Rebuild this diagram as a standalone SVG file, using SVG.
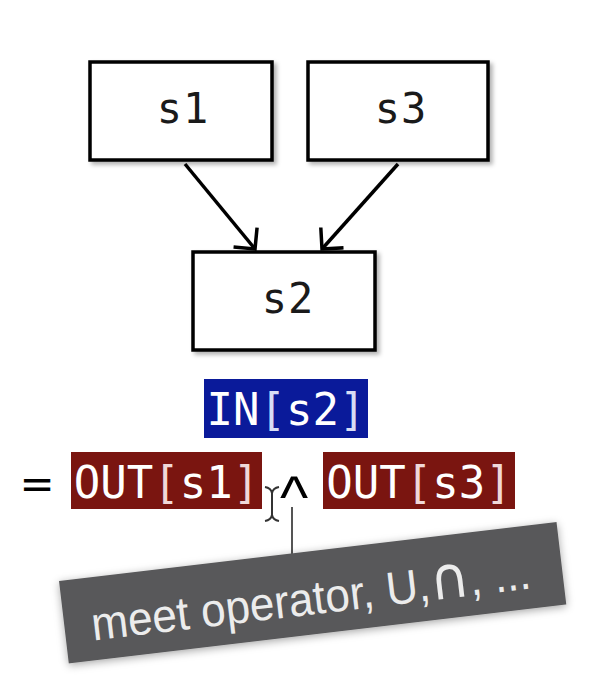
<svg xmlns="http://www.w3.org/2000/svg" width="613" height="689" viewBox="0 0 613 689">
  <defs>
    <filter id="shadow" x="-10%" y="-10%" width="130%" height="140%">
      <feDropShadow dx="3" dy="3" stdDeviation="2" flood-color="#000" flood-opacity="0.3"/>
    </filter>
    <filter id="shadow2" x="-10%" y="-30%" width="120%" height="160%">
      <feDropShadow dx="0" dy="2" stdDeviation="4" flood-color="#000" flood-opacity="0.35"/>
    </filter>
    <marker id="arrow" markerUnits="userSpaceOnUse" markerWidth="34" markerHeight="34" viewBox="-28 -17 34 34" refX="0" refY="0" orient="auto">
      <path d="M-14,-14 L0,0 L-14,14" fill="none" stroke="#000" stroke-width="3.5" stroke-linecap="square"/>
    </marker>
  </defs>
  <style>
    .node rect { fill: #fff; stroke: #000; stroke-width: 3.5; }
    .nlabel { font-family: "DejaVu Sans Mono", "Liberation Mono", monospace; font-size: 42px; letter-spacing: 1px; fill: #1a1a1a; text-anchor: middle; }
    .code { font-family: "DejaVu Sans Mono", "Liberation Mono", monospace; font-size: 44px; fill: #fff; text-anchor: middle; }
    .br-red { fill: #f0d8d8; }
    .br-blue { fill: #d8ddf5; }
    .edge { stroke: #000; stroke-width: 3.5; fill: none; }
  </style>
  <rect width="613" height="689" fill="#fff"/>

  <g id="connectors">
    <line class="edge" x1="185" y1="164" x2="255" y2="249" marker-end="url(#arrow)"/>
    <line class="edge" x1="398" y1="164" x2="322" y2="249" marker-end="url(#arrow)"/>
  </g>

  <g id="s1" class="node">
    <rect x="90" y="62" width="182" height="98" filter="url(#shadow)"/>
    <text class="nlabel" x="183" y="123">s1</text>
  </g>
  <g id="s3" class="node">
    <rect x="308" y="62" width="180" height="98" filter="url(#shadow)"/>
    <text class="nlabel" x="401" y="123">s3</text>
  </g>
  <g id="s2" class="node">
    <rect x="193" y="252" width="182" height="98" filter="url(#shadow)"/>
    <text class="nlabel" x="288" y="313">s2</text>
  </g>

  <g id="in-s2">
    <rect x="204" y="379" width="164" height="59" fill="#0a1a9a"/>
    <text class="code" x="286" y="425">IN<tspan class="br-blue">[</tspan>s2<tspan class="br-blue">]</tspan></text>
  </g>

  <g id="equation">
    <text x="37" y="498" font-family="DejaVu Sans, sans-serif" font-size="42" fill="#000" text-anchor="middle">=</text>
    <rect x="71" y="452" width="191" height="57" fill="#7a1510"/>
    <text class="code" x="166.5" y="498">OUT<tspan class="br-red">[</tspan>s1<tspan class="br-red">]</tspan></text>
    <text x="294" y="518" font-family="Liberation Sans, Arial, sans-serif" font-size="60" fill="#000" text-anchor="middle">^</text>
    <rect x="323" y="452" width="192" height="57" fill="#7a1510"/>
    <text class="code" x="419" y="498">OUT<tspan class="br-red">[</tspan>s3<tspan class="br-red">]</tspan></text>
    <path d="M265,487 Q271,488 272,493 Q273,488 279,487 M272,493 L272,515 M265,521 Q271,520 272,515 Q273,520 279,521" fill="none" stroke="#333" stroke-width="2"/>
  </g>

  <g id="callout">
    <line x1="292" y1="507" x2="292" y2="557" stroke="#555" stroke-width="2"/>
    <g transform="translate(59,581) rotate(-6.76)">
      <rect x="0" y="0" width="501" height="83" fill="#58585a" filter="url(#shadow2)"/>
      <text x="27" y="63" font-family="Liberation Sans, Arial, sans-serif" font-size="47" fill="#ececec" textLength="442" lengthAdjust="spacingAndGlyphs">meet operator, U,<tspan font-family="DejaVu Sans, sans-serif" font-size="58">∩</tspan>, ...</text>
    </g>
  </g>
</svg>
